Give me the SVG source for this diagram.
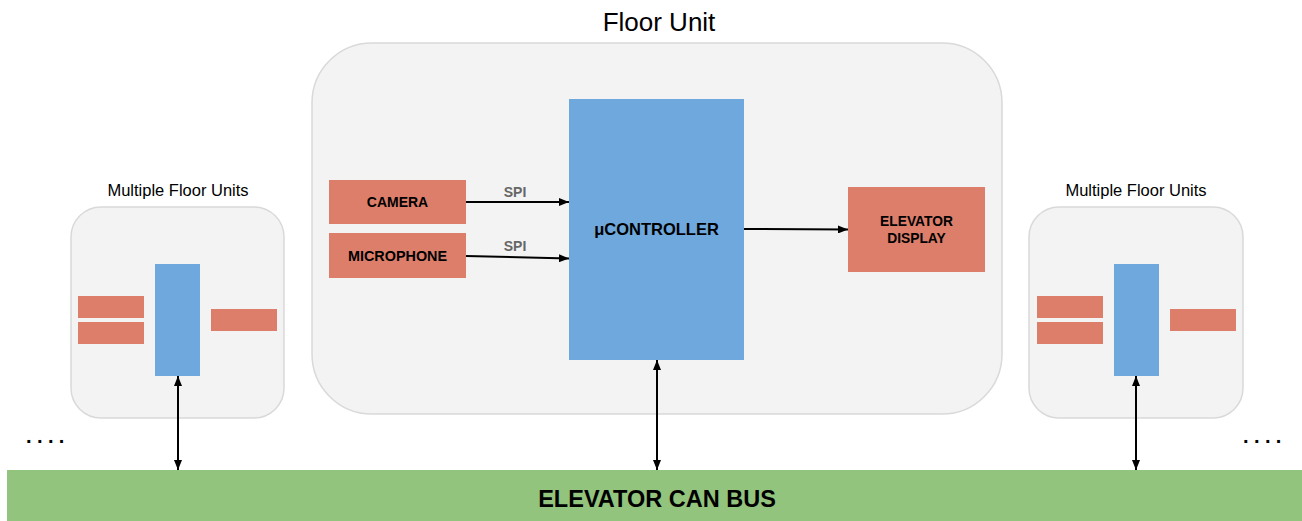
<svg xmlns="http://www.w3.org/2000/svg" width="1302" height="521" viewBox="0 0 1302 521">
<defs>
<marker id="ah" markerWidth="10" markerHeight="8" refX="10" refY="4" orient="auto-start-reverse" markerUnits="userSpaceOnUse">
<path d="M0,0 L10,4 L0,8 Z" fill="#000"/>
</marker>
<style>
.cont{fill:#f3f3f3;stroke:#d9d9d9;stroke-width:1.5}
.red{fill:#dd7e6b}
.blue{fill:#6fa8dc}
.bus{fill:#93c47d}
.lbl{font-family:"Liberation Sans",Arial,sans-serif;font-weight:bold;fill:#000;text-anchor:middle}
.title{font-family:"Liberation Sans",Arial,sans-serif;fill:#000;text-anchor:middle}
.spi{font-family:"Liberation Sans",Arial,sans-serif;font-weight:bold;fill:#666;font-size:14px;text-anchor:middle}
.dots{font-family:"Liberation Sans",Arial,sans-serif;font-weight:bold;font-size:20px;letter-spacing:5.4px;fill:#000}
.conn{stroke:#000;stroke-width:2;fill:none}
</style>
</defs>
<rect width="1302" height="521" fill="#fff"/>

<g id="floor-unit">
<rect class="cont" x="312" y="43" width="690" height="371" rx="60" ry="60"/>
<text class="title" x="659" y="31" font-size="26">Floor Unit</text>
</g>

<g id="camera">
<rect class="red" x="329" y="180" width="137" height="44"/>
<text class="lbl" x="397.5" y="207" font-size="14">CAMERA</text>
</g>

<g id="microphone">
<rect class="red" x="329" y="233" width="137" height="45"/>
<text class="lbl" x="397.5" y="260.5" font-size="14.4">MICROPHONE</text>
</g>

<g id="ucontroller">
<rect class="blue" x="569" y="99" width="175" height="261"/>
<text class="lbl" x="656.5" y="235" font-size="16.5">μCONTROLLER</text>
</g>

<g id="elevator-display">
<rect class="red" x="848" y="187" width="137" height="85"/>
<text class="lbl" x="916.5" y="225.5" font-size="13.8">ELEVATOR</text>
<text class="lbl" x="916.5" y="243" font-size="13.8">DISPLAY</text>
</g>

<g id="left-floor-units">
<text class="title" x="178" y="196" font-size="16.5">Multiple Floor Units</text>
<rect class="cont" x="71" y="207" width="213" height="211" rx="30" ry="30"/>
<rect class="blue" x="155" y="264" width="45" height="112"/>
<rect class="red" x="78" y="296" width="66" height="22"/>
<rect class="red" x="78" y="322" width="66" height="22"/>
<rect class="red" x="211" y="309" width="66" height="22"/>
</g>

<g id="right-floor-units">
<text class="title" x="1136" y="196" font-size="16.5">Multiple Floor Units</text>
<rect class="cont" x="1029" y="207" width="214" height="211" rx="30" ry="30"/>
<rect class="blue" x="1114" y="264" width="45" height="112"/>
<rect class="red" x="1037" y="296" width="66" height="22"/>
<rect class="red" x="1037" y="322" width="66" height="22"/>
<rect class="red" x="1170" y="309" width="66" height="22"/>
</g>

<g id="dots-left"><text class="dots" x="26" y="443">....</text></g>
<g id="dots-right"><text class="dots" x="1243" y="443">....</text></g>

<g id="can-bus">
<rect class="bus" x="7" y="470" width="1295" height="51"/>
<text class="lbl" x="657" y="507" font-size="23.5">ELEVATOR CAN BUS</text>
</g>

<g id="connectors">
<line class="conn" x1="466" y1="202" x2="569" y2="202" marker-end="url(#ah)"/>
<text class="spi" x="515" y="197">SPI</text>
<line class="conn" x1="466" y1="256" x2="569" y2="258.5" marker-end="url(#ah)"/>
<text class="spi" x="515" y="251">SPI</text>
<line class="conn" x1="744" y1="229" x2="848" y2="229.5" marker-end="url(#ah)"/>
<line class="conn" x1="657" y1="360" x2="657" y2="470" marker-start="url(#ah)" marker-end="url(#ah)"/>
<line class="conn" x1="178" y1="376" x2="178" y2="470" marker-start="url(#ah)" marker-end="url(#ah)"/>
<line class="conn" x1="1136" y1="376" x2="1136" y2="470" marker-start="url(#ah)" marker-end="url(#ah)"/>
</g>
</svg>
